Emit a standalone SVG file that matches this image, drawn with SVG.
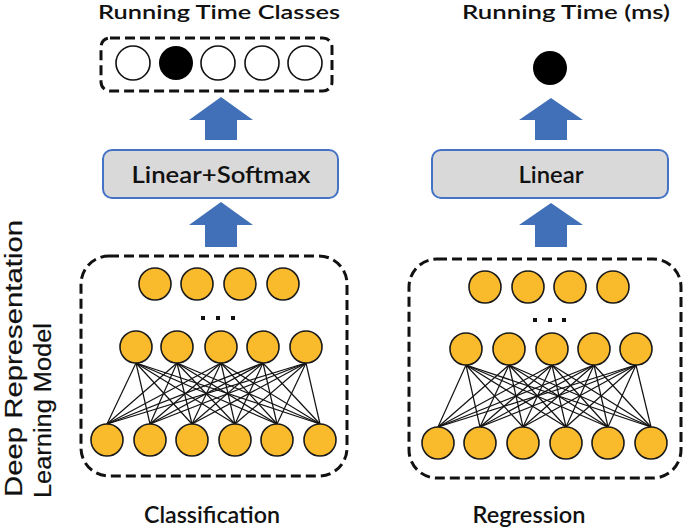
<svg xmlns="http://www.w3.org/2000/svg" width="685" height="527" viewBox="0 0 685 527">
<defs>
<style>
.t{font-family:Lato,"Noto Sans","Liberation Sans",sans-serif;font-weight:600;fill:#111;text-anchor:middle}
.v{font-family:"Liberation Sans",Arial,sans-serif;font-weight:normal;fill:#111;stroke:#111;stroke-width:0.2;font-size:23.5px}
.dash{fill:none;stroke:#111;stroke-width:3;stroke-dasharray:10 5}
.n{fill:#f9bb2b;stroke:#1a1a1a;stroke-width:1.6}
.o{fill:#fff;stroke:#111;stroke-width:1.6}
.b{fill:#000}
.box{fill:#d9d9d9;stroke:#4472c4;stroke-width:2}
.arr{fill:#4170b8}
.e{stroke:#111;stroke-width:1.2}
.dot{fill:#111}
</style>
</defs>
<rect width="685" height="527" fill="#fff"/>

<!-- titles -->
<text class="t" x="219" y="19" font-size="19.5" textLength="242" lengthAdjust="spacingAndGlyphs">Running Time Classes</text>
<text class="t" x="566" y="19" font-size="19.5" textLength="208" lengthAdjust="spacingAndGlyphs">Running Time (ms)</text>

<!-- output classes -->
<g id="class-output">
<rect class="dash" x="101" y="38" width="231" height="53" rx="9"/>
<circle class="o" cx="133" cy="63" r="17"/>
<circle class="b" cx="176" cy="63" r="17"/>
<circle class="o" cx="218" cy="63" r="17"/>
<circle class="o" cx="262" cy="63" r="17"/>
<circle class="o" cx="305" cy="63" r="17"/>
</g>
<g id="reg-output">
<circle class="b" cx="550" cy="68" r="17"/>
</g>

<!-- linear boxes -->
<g id="linear-softmax">
<rect class="box" x="103" y="150" width="235" height="48" rx="9"/>
<text class="t" x="221" y="183" font-size="23" textLength="179" lengthAdjust="spacingAndGlyphs">Linear+Softmax</text>
</g>
<g id="linear">
<rect class="box" x="432" y="150" width="236" height="48" rx="9"/>
<text class="t" x="551" y="183" font-size="23" textLength="65" lengthAdjust="spacingAndGlyphs">Linear</text>
</g>

<!-- arrows -->
<g id="connectors">
<polygon class="arr" points="221,97 253,120 237,120 237,140 205,140 205,120 189,120"/>
<polygon class="arr" points="221,202 253,225 237,225 237,247 205,247 205,225 189,225"/>
<polygon class="arr" points="551,98 583,120 567,120 567,140 535,140 535,120 519,120"/>
<polygon class="arr" points="551,203 583,225 567,225 567,247 535,247 535,225 519,225"/>

<!-- left network edges -->
<g class="e">
<line x1="136" y1="363" x2="107" y2="424"/><line x1="136" y1="363" x2="150" y2="424"/><line x1="136" y1="363" x2="192" y2="424"/><line x1="136" y1="363" x2="235" y2="424"/><line x1="136" y1="363" x2="277" y2="424"/><line x1="136" y1="363" x2="320" y2="424"/>
<line x1="177" y1="363" x2="107" y2="424"/><line x1="177" y1="363" x2="150" y2="424"/><line x1="177" y1="363" x2="192" y2="424"/><line x1="177" y1="363" x2="235" y2="424"/><line x1="177" y1="363" x2="277" y2="424"/><line x1="177" y1="363" x2="320" y2="424"/>
<line x1="221" y1="363" x2="107" y2="424"/><line x1="221" y1="363" x2="150" y2="424"/><line x1="221" y1="363" x2="192" y2="424"/><line x1="221" y1="363" x2="235" y2="424"/><line x1="221" y1="363" x2="277" y2="424"/><line x1="221" y1="363" x2="320" y2="424"/>
<line x1="263" y1="363" x2="107" y2="424"/><line x1="263" y1="363" x2="150" y2="424"/><line x1="263" y1="363" x2="192" y2="424"/><line x1="263" y1="363" x2="235" y2="424"/><line x1="263" y1="363" x2="277" y2="424"/><line x1="263" y1="363" x2="320" y2="424"/>
<line x1="306" y1="363" x2="107" y2="424"/><line x1="306" y1="363" x2="150" y2="424"/><line x1="306" y1="363" x2="192" y2="424"/><line x1="306" y1="363" x2="235" y2="424"/><line x1="306" y1="363" x2="277" y2="424"/><line x1="306" y1="363" x2="320" y2="424"/>
</g>
<!-- right network edges -->
<g class="e">
<line x1="466" y1="365" x2="438" y2="427"/><line x1="466" y1="365" x2="480" y2="427"/><line x1="466" y1="365" x2="523" y2="427"/><line x1="466" y1="365" x2="566" y2="427"/><line x1="466" y1="365" x2="608" y2="427"/><line x1="466" y1="365" x2="651" y2="427"/>
<line x1="509" y1="365" x2="438" y2="427"/><line x1="509" y1="365" x2="480" y2="427"/><line x1="509" y1="365" x2="523" y2="427"/><line x1="509" y1="365" x2="566" y2="427"/><line x1="509" y1="365" x2="608" y2="427"/><line x1="509" y1="365" x2="651" y2="427"/>
<line x1="552" y1="365" x2="438" y2="427"/><line x1="552" y1="365" x2="480" y2="427"/><line x1="552" y1="365" x2="523" y2="427"/><line x1="552" y1="365" x2="566" y2="427"/><line x1="552" y1="365" x2="608" y2="427"/><line x1="552" y1="365" x2="651" y2="427"/>
<line x1="594" y1="365" x2="438" y2="427"/><line x1="594" y1="365" x2="480" y2="427"/><line x1="594" y1="365" x2="523" y2="427"/><line x1="594" y1="365" x2="566" y2="427"/><line x1="594" y1="365" x2="608" y2="427"/><line x1="594" y1="365" x2="651" y2="427"/>
<line x1="636" y1="365" x2="438" y2="427"/><line x1="636" y1="365" x2="480" y2="427"/><line x1="636" y1="365" x2="523" y2="427"/><line x1="636" y1="365" x2="566" y2="427"/><line x1="636" y1="365" x2="608" y2="427"/><line x1="636" y1="365" x2="651" y2="427"/>
</g>
</g>

<!-- left network -->
<g id="class-model">
<rect class="dash" x="81" y="256" width="266" height="220" rx="28"/>
<circle class="n" cx="155" cy="284" r="16"/><circle class="n" cx="197" cy="284" r="16"/><circle class="n" cx="240" cy="284" r="16"/><circle class="n" cx="283" cy="284" r="16"/>
<rect class="dot" x="201" y="316" width="4" height="4"/><rect class="dot" x="216" y="316" width="4" height="4"/><rect class="dot" x="231" y="316" width="4" height="4"/>
<circle class="n" cx="136" cy="347" r="16"/><circle class="n" cx="177" cy="347" r="16"/><circle class="n" cx="221" cy="347" r="16"/><circle class="n" cx="263" cy="347" r="16"/><circle class="n" cx="306" cy="347" r="16"/>
<circle class="n" cx="107" cy="440" r="16"/><circle class="n" cx="150" cy="440" r="16"/><circle class="n" cx="192" cy="440" r="16"/><circle class="n" cx="235" cy="440" r="16"/><circle class="n" cx="277" cy="440" r="16"/><circle class="n" cx="320" cy="440" r="16"/>
</g>

<!-- right network -->
<g id="reg-model">
<rect class="dash" x="409" y="259" width="272" height="219" rx="28"/>
<circle class="n" cx="485" cy="287" r="16"/><circle class="n" cx="528" cy="287" r="16"/><circle class="n" cx="570" cy="287" r="16"/><circle class="n" cx="613" cy="287" r="16"/>
<rect class="dot" x="533" y="318" width="4" height="4"/><rect class="dot" x="548" y="318" width="4" height="4"/><rect class="dot" x="562" y="318" width="4" height="4"/>
<circle class="n" cx="466" cy="349" r="16"/><circle class="n" cx="509" cy="349" r="16"/><circle class="n" cx="552" cy="349" r="16"/><circle class="n" cx="594" cy="349" r="16"/><circle class="n" cx="636" cy="349" r="16"/>
<circle class="n" cx="438" cy="443" r="16"/><circle class="n" cx="480" cy="443" r="16"/><circle class="n" cx="523" cy="443" r="16"/><circle class="n" cx="566" cy="443" r="16"/><circle class="n" cx="608" cy="443" r="16"/><circle class="n" cx="651" cy="443" r="16"/>
</g>

<!-- bottom labels -->
<text class="t" x="212" y="523" font-size="22" textLength="136" lengthAdjust="spacingAndGlyphs">Classification</text>
<text class="t" x="529" y="523" font-size="22" textLength="113" lengthAdjust="spacingAndGlyphs">Regression</text>

<!-- vertical label -->
<g id="side-label">
<text class="v" transform="translate(22,497) rotate(-90)" textLength="277" lengthAdjust="spacingAndGlyphs">Deep Representation</text>
<text class="v" transform="translate(51,498) rotate(-90)" textLength="175" lengthAdjust="spacingAndGlyphs">Learning Model</text>
</g>
</svg>
